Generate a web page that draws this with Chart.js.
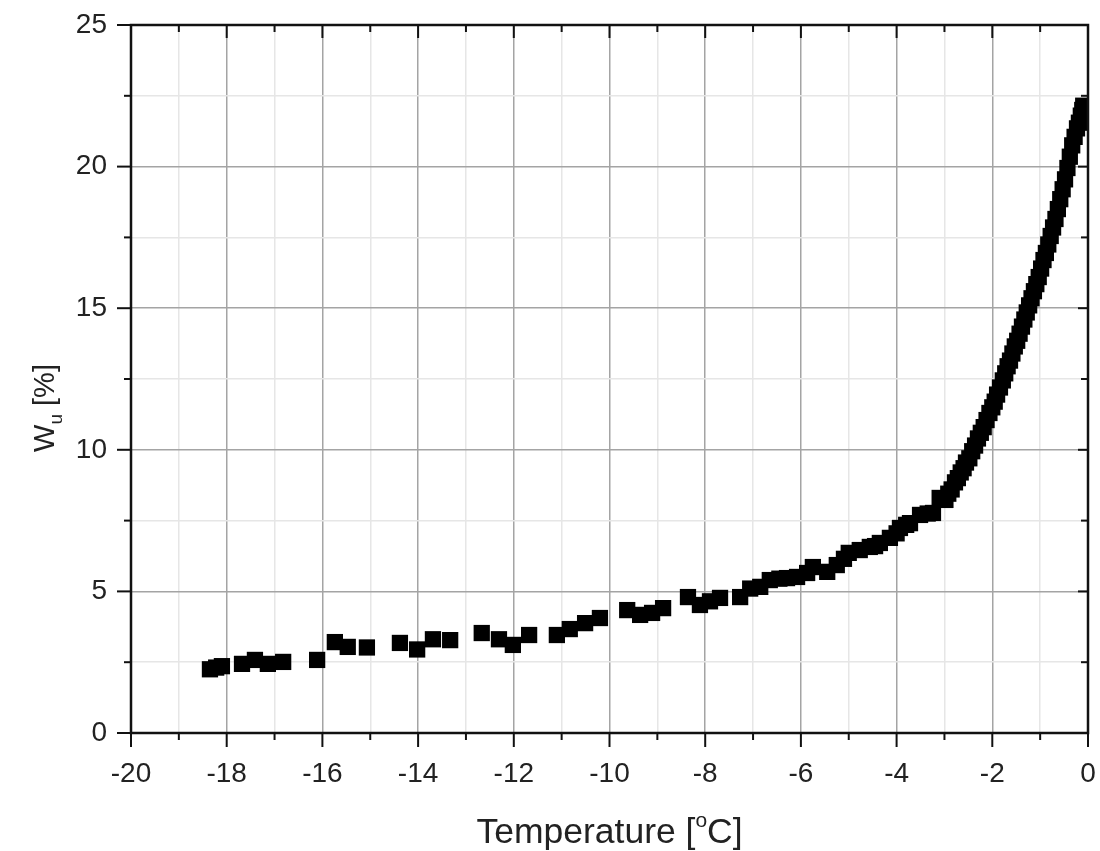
<!DOCTYPE html>
<html>
<head>
<meta charset="utf-8">
<script src="https://cdn.jsdelivr.net/npm/chart.js@4.4.1/dist/chart.umd.min.js"></script>
<style>
  html, body { margin: 0; padding: 0; background: #fff; }
  #wrap { width: 1100px; height: 851px; }
</style>
</head>
<body>
<div id="wrap"><canvas id="grafico" width="1100" height="851"></canvas></div>
<script>
// Temperature [°C]
const temperatura = [
  -18.35, -18.22, -18.10, -17.68, -17.41, -17.14, -16.82, -16.11, -15.74, -15.47,
  -15.07, -14.38, -14.02, -13.69, -13.33, -12.67, -12.31, -12.02, -11.68, -11.10,
  -10.83, -10.51, -10.20, -9.63, -9.36, -9.11, -8.88, -8.36, -8.11, -7.90,
  -7.69, -7.27, -7.06, -6.85, -6.65, -6.45, -6.29, -6.08, -5.87, -5.75,
  -5.45, -5.25, -5.10, -5.00, -4.77, -4.56, -4.45, -4.35, -4.14, -4.00,
  -3.93, -3.80, -3.72, -3.51, -3.35, -3.24, -3.10, -2.98, -2.92, -2.85,
  -2.78, -2.72, -2.66, -2.60, -2.55, -2.48, -2.42, -2.36, -2.30, -2.24,
  -2.18, -2.12, -2.06, -2.00, -1.95, -1.90, -1.84, -1.78, -1.73, -1.68,
  -1.63, -1.58, -1.53, -1.48, -1.43, -1.38, -1.33, -1.28, -1.23, -1.18,
  -1.13, -1.08, -1.03, -0.98, -0.93, -0.88, -0.83, -0.78, -0.73, -0.68,
  -0.63, -0.58, -0.53, -0.48, -0.43, -0.38, -0.33, -0.28, -0.23, -0.19,
  -0.15, -0.12, -0.10
];
// unfrozen water content w_u [%]
const aguaNaoCongelada = [
  2.25, 2.31, 2.36, 2.44, 2.58, 2.44, 2.51, 2.58, 3.21, 3.04,
  3.02, 3.18, 2.95, 3.31, 3.28, 3.53, 3.31, 3.11, 3.46, 3.46,
  3.67, 3.88, 4.06, 4.34, 4.17, 4.24, 4.41, 4.80, 4.52, 4.65,
  4.77, 4.80, 5.10, 5.16, 5.40, 5.45, 5.47, 5.51, 5.65, 5.86,
  5.69, 5.93, 6.15, 6.36, 6.46, 6.57, 6.60, 6.71, 6.89, 7.05,
  7.24, 7.35, 7.41, 7.70, 7.75, 7.77, 8.30, 8.23, 8.45, 8.60,
  8.85, 9.00, 9.20, 9.35, 9.55, 9.70, 9.95, 10.15, 10.40, 10.60,
  10.80, 11.05, 11.30, 11.50, 11.70, 11.95, 12.20, 12.45, 12.70, 12.95,
  13.15, 13.40, 13.65, 13.85, 14.10, 14.35, 14.60, 14.85, 15.10, 15.35,
  15.60, 15.85, 16.10, 16.40, 16.70, 16.95, 17.25, 17.55, 17.85, 18.15,
  18.50, 18.85, 19.20, 19.55, 19.95, 20.35, 20.75, 21.05, 21.35, 21.55,
  21.80, 22.00, 22.15
];
// ticks
const ticksX = [-20, -18, -16, -14, -12, -10, -8, -6, -4, -2, 0];
const ticksY = [0, 5, 10, 15, 20, 25];

const fonte = "'Liberation Sans', Arial, sans-serif";

// moldura, marcas de escala e títulos dos eixos
const molduraPlugin = {
  id: 'moldura',
  afterDraw(chart) {
    const { ctx, chartArea: a, scales } = chart;
    const x = scales.x, y = scales.y;
    ctx.save();
    ctx.strokeStyle = '#111';
    ctx.lineWidth = 2.5;
    ctx.strokeRect(a.left, a.top, a.right - a.left, a.bottom - a.top);

    function linha(x1, y1, x2, y2) {
      ctx.beginPath(); ctx.moveTo(x1, y1); ctx.lineTo(x2, y2); ctx.stroke();
    }
    ctx.lineWidth = 2;
    x.ticks.forEach(t => {
      const px = x.getPixelForValue(t.value);
      const maior = ticksX.includes(t.value);
      linha(px, a.bottom, px, a.bottom + (maior ? 14 : 7));
      linha(px, a.top, px, a.top + (maior ? 13 : 7));
    });
    y.ticks.forEach(t => {
      const py = y.getPixelForValue(t.value);
      const maior = ticksY.includes(t.value);
      linha(a.left - (maior ? 14 : 7), py, a.left, py);
      linha(a.right - (maior ? 10 : 7), py, a.right, py);
    });

    // título eixo X: Temperature [°C]
    ctx.fillStyle = '#222';
    ctx.textBaseline = 'alphabetic';
    ctx.textAlign = 'left';
    const f1 = '35.5px ' + fonte, f2 = '21px ' + fonte;
    ctx.font = f1;
    const p1 = 'Temperature [', p3 = 'C]';
    const w1 = ctx.measureText(p1).width, w3 = ctx.measureText(p3).width;
    ctx.font = f2;
    const w2 = ctx.measureText('o').width;
    let cx = (a.left + a.right) / 2 - (w1 + w2 + w3) / 2;
    const base = 843;
    ctx.font = f1; ctx.fillText(p1, cx, base); cx += w1;
    ctx.font = f2; ctx.fillText('o', cx, base - 16); cx += w2;
    ctx.font = f1; ctx.fillText(p3, cx, base);

    // título eixo Y: W_u [%]
    ctx.save();
    ctx.translate(54, 408);
    ctx.rotate(-Math.PI / 2);
    const g1 = '29px ' + fonte, g2 = '19px ' + fonte;
    ctx.font = g1;
    const q1 = 'W', q3 = ' [%]';
    const v1 = ctx.measureText(q1).width, v3 = ctx.measureText(q3).width;
    ctx.font = g2;
    const v2 = ctx.measureText('u').width;
    let cy = -(v1 + v2 + v3) / 2;
    ctx.font = g1; ctx.fillText(q1, cy, 0); cy += v1;
    ctx.font = g2; ctx.fillText('u', cy, 8); cy += v2;
    ctx.font = g1; ctx.fillText(q3, cy, 0);
    ctx.restore();

    ctx.restore();
  }
};

const pontos = temperatura.map((t, i) => ({ x: t, y: aguaNaoCongelada[i] }));

new Chart(document.getElementById('grafico').getContext('2d'), {
  type: 'scatter',
  data: {
    datasets: [{
      label: 'w_u',
      data: pontos,
      pointStyle: 'rect',
      pointRadius: 11.5,
      pointHoverRadius: 11.5,
      backgroundColor: '#000',
      borderWidth: 0
    }]
  },
  options: {
    responsive: false,
    animation: false,
    events: [],
    layout: { padding: { left: 0, right: 12, top: 25, bottom: 0 } },
    plugins: {
      legend: { display: false },
      tooltip: { enabled: false }
    },
    scales: {
      x: {
        type: 'linear',
        min: -20,
        max: 0,
        afterFit: s => { s.height = 118; s.paddingLeft = 0; s.paddingRight = 0; },
        border: { display: false },
        grid: {
          drawTicks: false,
          lineWidth: 1.5,
          color: c => ticksX.includes(c.tick.value) ? '#a4a4a4' : '#e6e6e6'
        },
        ticks: {
          stepSize: 1,
          autoSkip: false,
          maxRotation: 0,
          padding: 24,
          color: '#222',
          font: { family: fonte, size: 28 },
          callback: v => ticksX.includes(v) ? String(v) : ''
        }
      },
      y: {
        type: 'linear',
        min: 0,
        max: 25,
        afterFit: s => { s.width = 131; s.paddingTop = 0; s.paddingBottom = 0; },
        border: { display: false },
        grid: {
          drawTicks: false,
          lineWidth: 1.5,
          color: c => ticksY.includes(c.tick.value) ? '#a4a4a4' : '#e6e6e6'
        },
        ticks: {
          stepSize: 2.5,
          autoSkip: false,
          padding: 24,
          color: '#222',
          font: { family: fonte, size: 28 },
          callback: v => ticksY.includes(v) ? String(v) : ''
        }
      }
    }
  },
  plugins: [molduraPlugin]
});
</script>
</body>
</html>
